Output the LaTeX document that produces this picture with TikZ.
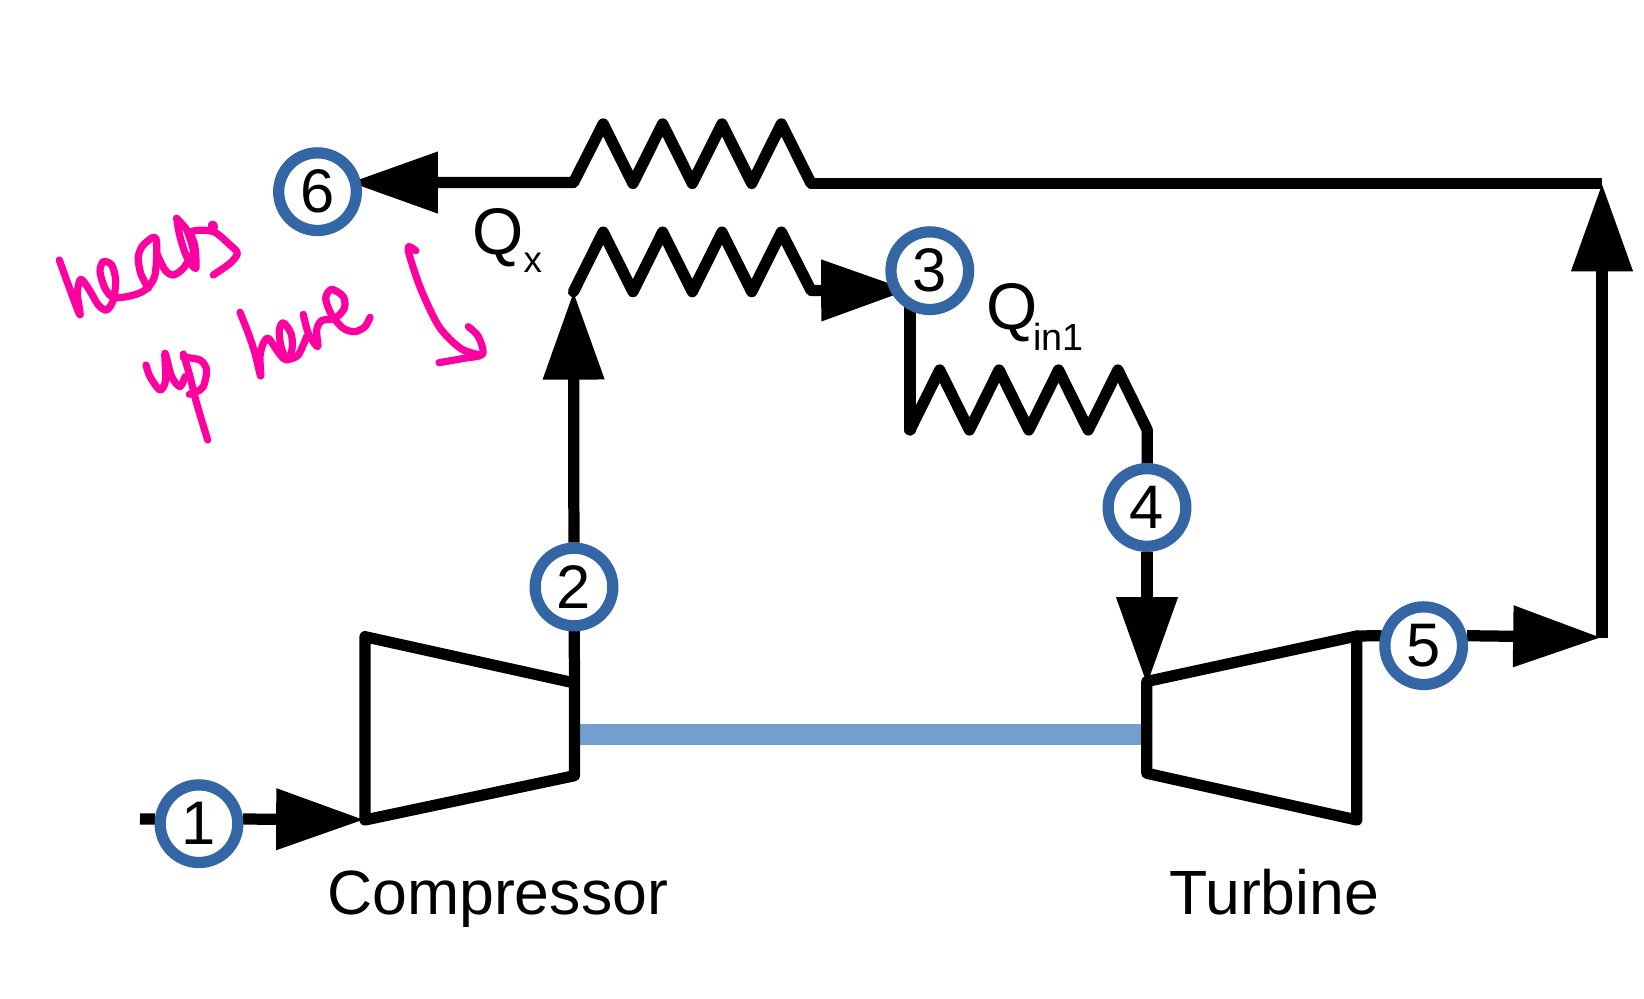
\documentclass[tikz,border=0pt]{standalone}
\usepackage{fontspec}
\setmainfont{Liberation Sans}
\usetikzlibrary{arrows.meta, backgrounds}
\definecolor{ptblue}{HTML}{3465A4}
\definecolor{shaftblue}{HTML}{729FCF}
\definecolor{inkpink}{HTML}{FF00A0}

\begin{document}
\begin{tikzpicture}[
    x=0.02cm,
    y=-0.02cm,
    statept/.style={circle, draw=ptblue, fill=white, line width=6.4pt, minimum size=44.2pt, inner sep=0pt, font=\fontsize{35}{35}\selectfont},
    pipe/.style={line width=6.4pt, line join=round, line cap=round},
    flow/.style={line width=6.4pt, -{Triangle[length=50pt,width=33.5pt]}},
    label/.style={anchor=base west, inner sep=0pt, font=\fontsize{35.6}{36}\selectfont},
    qlabel/.style={anchor=base west, inner sep=0pt, font=\fontsize{37.5}{38}\selectfont},
    ink/.style={draw=inkpink, line width=4.1pt, line join=round, line cap=round}
]
    \useasboundingbox (0,0) rectangle (1644,999);

    \node[statept] (n1) at (199,823.7) {1};
    \node[statept] (n2) at (574,587) {2};
    \node[statept] (n3) at (929.8,270.7) {3};
    \node[statept] (n4) at (1147,507.5) {4};
    \node[statept] (n5) at (1423.7,645.7) {5};
    \node[statept] (n6) at (317.5,191.7) {6};

    % Compressor and turbine corners
    \coordinate (compTL) at (365,636.7);
    \coordinate (compTR) at (574.5,683);
    \coordinate (compBR) at (574.5,775.7);
    \coordinate (compBL) at (365,820);
    \coordinate (turbTL) at (1146.8,681.5);
    \coordinate (turbTR) at (1356.8,636);
    \coordinate (turbBR) at (1356.8,820);
    \coordinate (turbBL) at (1146.8,773.3);

    % Free ends
    \coordinate (inlet) at (140,819);
    \coordinate (compIn) at (364,819.7);
    \coordinate (shaftA) at (574.5,734.7);
    \coordinate (shaftB) at (1146.8,734.7);
    \coordinate (h1in) at (573.5,182.6);
    \coordinate (h1out) at (811.1,183.5);
    \coordinate (h6tip) at (350,182.5);
    \coordinate (h2in) at (573.5,291.7);
    \coordinate (h2out) at (811.1,290.5);
    \coordinate (h2tip) at (909,290);
    \coordinate (h3in) at (910,430);
    \coordinate (h3out) at (1147.3,430);
    \coordinate (turbIn) at (1147,685);
    \coordinate (corner) at (1602,183.5);
    \coordinate (cornerE) at (1602,638);
    \coordinate (cornerTip) at (1601,637.5);

    \begin{scope}[on background layer]
        \draw[shaftblue, line width=11.7pt] (shaftA) -- (shaftB);
        \draw[pipe] (compTL) -- (compTR) -- (compBR) -- (compBL) -- cycle;
        \draw[pipe] (turbTL) -- (turbTR) -- (turbBR) -- (turbBL) -- cycle;

        \draw[line width=6.4pt] (inlet) -- (n1.174);
        \draw[flow] (n1.6) -- (compIn);
        \draw[pipe] (compTR) -- (n2);
        \draw[flow] (n2) -- (h2in);
        \draw[pipe] (h2in) -- ++(29.7,-59.6) -- ++(29.7,59.6) -- ++(29.7,-59.6) -- ++(29.7,59.6) -- ++(29.7,-59.6) -- ++(29.7,59.6) -- ++(29.7,-59.6) -- (h2out);
        \draw[flow] (h2out) -- (h2tip);
        \draw[pipe] (n3.center -| h3in) -- (h3in);
        \draw[pipe] (h3in) -- ++(29.7,-60) -- ++(29.7,60) -- ++(29.7,-60) -- ++(29.7,60) -- ++(29.7,-60) -- ++(29.7,60) -- ++(29.7,-60) -- (h3out);
        \draw[pipe] (h3out) -- (n4);
        \draw[flow] (n4) -- (turbIn);
        \draw[pipe] (turbTR) -- (n5.167);
        \draw[flow] (n5.13) -- (cornerTip);
        \draw[flow] (cornerE) -- (corner);
        \draw[line width=6.4pt] (corner) -- (h1out);
        \draw[pipe] (h1out) -- ++(-29.7,-59.6) -- ++(-29.7,59.6) -- ++(-29.7,-59.6) -- ++(-29.7,59.6) -- ++(-29.7,-59.6) -- ++(-29.7,59.6) -- ++(-29.7,-59.6) -- (h1in);
        \draw[flow] (h1in) -- (h6tip);
    \end{scope}

    \node[label] (complabel) at (327,915) {Compressor};
    \node[label] (turblabel) at (1169,915) {Turbine};
    \node[qlabel] (qx) at (472,255) {Q\raisebox{-10.2pt}{\fontsize{21}{21}\selectfont x}};
    \node[qlabel] (qin) at (986,330) {Q\kern-2.5pt\raisebox{-11.9pt}{\fontsize{21.5}{21.5}\selectfont in1}};

    % Handwritten note, first line
    \begin{scope}[shift={(50,210)}, x=0.00667cm, y=-0.00667cm]
        \draw[ink] plot[smooth, tension=0.5] coordinates {(28,150) (55,225) (90,315) (82,250) (92,208) (115,235) (145,285) (170,300) (190,270) (197,210) (185,165) (160,155) (150,185) (165,235) (190,262) (240,258) (285,240) (315,195) (318,85) (280,105) (265,140) (272,190) (295,235)};
        \draw[ink] plot[smooth, tension=0.5] coordinates {(320,130) (345,180) (370,195) (400,175) (425,135)};
        \draw[ink] plot[smooth, tension=0.5] coordinates {(380,25) (390,80) (410,140) (437,175) (435,110) (425,65) (490,65) (540,105) (562,130) (540,160) (490,195)};
        \draw[ink] plot[smooth, tension=0.5] coordinates {(380,25) (410,60) (430,120) (437,175)};
        \draw[ink, line width=5.5pt] (488,46) -- (490,50);
    \end{scope}
    % Second line
    \begin{scope}[shift={(135,280)}, x=0.00667cm, y=-0.00667cm]
        \draw[ink] plot[smooth, tension=0.5] coordinates {(33,255) (45,290) (75,330) (92,300) (90,220) (110,290) (135,320) (150,290)};
        \draw[ink] plot[smooth, tension=0.5] coordinates {(145,222) (165,290) (185,370) (218,480)};
        \draw[ink] plot[smooth, tension=0.5] coordinates {(145,232) (195,240) (215,270) (205,320) (185,335) (163,343)};
        \draw[ink] plot[smooth, tension=0.5] coordinates {(315,97) (340,160) (360,220) (377,288) (375,230) (385,190) (400,175) (425,210) (445,235) (462,238) (472,200) (468,160) (445,128) (433,150) (437,195) (450,232)};
        \draw[ink] plot[smooth, tension=0.5] coordinates {(462,238) (490,225) (515,170)};
        \draw[ink] plot[smooth, tension=0.5] coordinates {(505,103) (520,160) (548,200) (545,150) (560,122) (600,115) (628,85) (625,50) (590,28) (572,55) (590,105) (625,145) (660,155) (690,140) (705,112)};
    \end{scope}
    % Pointer
    \begin{scope}[shift={(0,100)}, x=0.00714cm, y=-0.00667cm]
        \draw[ink] plot[smooth, tension=0.5] coordinates {(1165,452) (1145,440) (1148,470) (1180,570) (1230,680) (1290,745) (1345,765)};
        \draw[ink] plot[smooth, tension=0.5] coordinates {(1312,680) (1340,710) (1352,762) (1300,775) (1230,788)};
    \end{scope}
\end{tikzpicture}
\end{document}
